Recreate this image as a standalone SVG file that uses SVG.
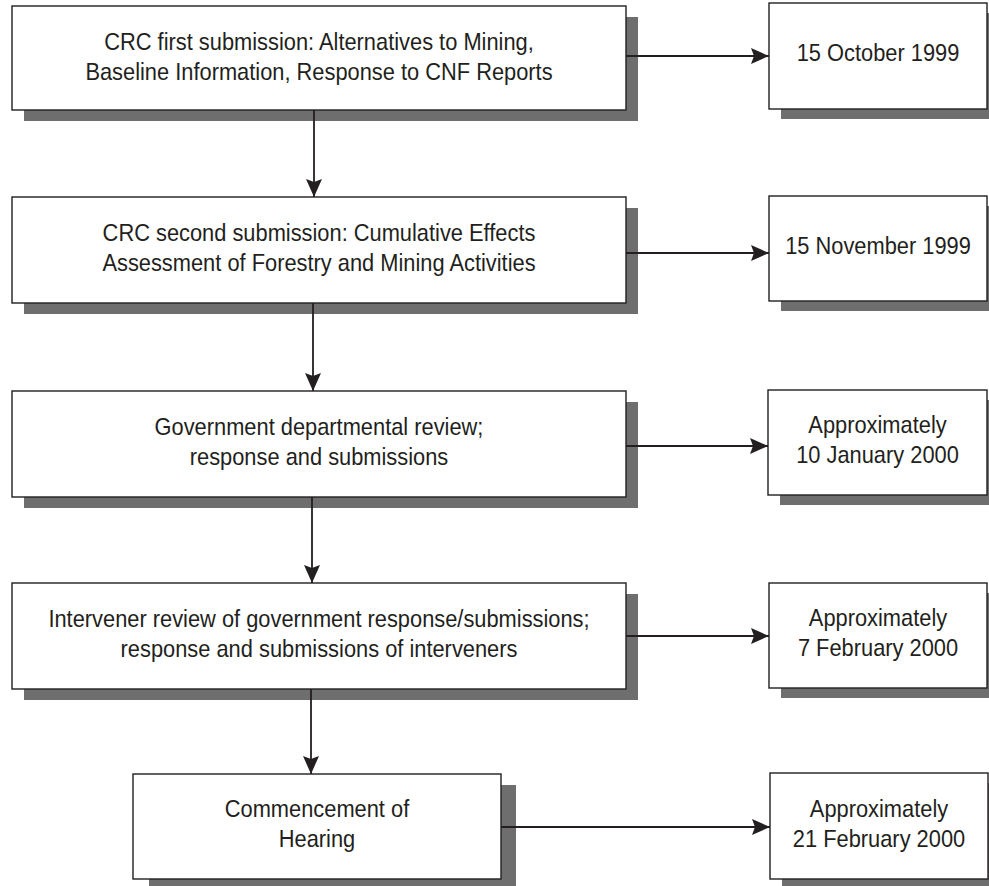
<svg xmlns="http://www.w3.org/2000/svg" width="989" height="886" viewBox="0 0 989 886">
<defs>
<style>
.box{fill:#fff;stroke:#231f20;stroke-width:1.4}
.sh{fill:#6e6e6e}
.t{font-family:"Liberation Sans",Arial,sans-serif;font-size:24px;fill:#231f20;text-anchor:middle}
.c{stroke:#231f20;stroke-width:1.8;fill:none;marker-end:url(#ah)}
</style>
<marker id="ah" markerUnits="userSpaceOnUse" markerWidth="20" markerHeight="18" refX="18" refY="8" orient="auto">
<path d="M0,0 L18,8 L0,16 L3,8 z" fill="#231f20"/>
</marker>
</defs>
<rect width="989" height="886" fill="#fff"/>

<g id="n1">
<rect class="sh" x="24" y="17" width="614" height="104"/>
<rect class="box" x="12" y="6" width="614" height="104"/>
<text class="t" transform="translate(319,50) scale(0.91,1)">CRC first submission: Alternatives to Mining,</text>
<text class="t" transform="translate(319,80) scale(0.91,1)">Baseline Information, Response to CNF Reports</text>
</g>
<g id="d1">
<rect class="sh" x="781" y="13" width="218" height="106"/>
<rect class="box" x="769" y="3" width="218" height="106"/>
<text class="t" transform="translate(878,60.5) scale(0.91,1)">15 October 1999</text>
</g>

<g id="n2">
<rect class="sh" x="24" y="208" width="614" height="106"/>
<rect class="box" x="12" y="197" width="614" height="106"/>
<text class="t" transform="translate(319,240.5) scale(0.91,1)">CRC second submission: Cumulative Effects</text>
<text class="t" transform="translate(319,270.5) scale(0.91,1)">Assessment of Forestry and Mining Activities</text>
</g>
<g id="d2">
<rect class="sh" x="781" y="206" width="218" height="105"/>
<rect class="box" x="769" y="196" width="218" height="105"/>
<text class="t" transform="translate(878,253.5) scale(0.91,1)">15 November 1999</text>
</g>

<g id="n3">
<rect class="sh" x="24" y="402" width="614" height="106"/>
<rect class="box" x="12" y="391" width="614" height="106"/>
<text class="t" transform="translate(319,434.5) scale(0.91,1)">Government departmental review;</text>
<text class="t" transform="translate(319,464.5) scale(0.91,1)">response and submissions</text>
</g>
<g id="d3">
<rect class="sh" x="780" y="400" width="219" height="105"/>
<rect class="box" x="768" y="390" width="219" height="105"/>
<text class="t" transform="translate(877.5,433) scale(0.91,1)">Approximately</text>
<text class="t" transform="translate(877.5,463) scale(0.91,1)">10 January 2000</text>
</g>

<g id="n4">
<rect class="sh" x="24" y="594" width="614" height="106"/>
<rect class="box" x="12" y="583" width="614" height="106"/>
<text class="t" transform="translate(319,626.5) scale(0.91,1)">Intervener review of government response/submissions;</text>
<text class="t" transform="translate(319,656.5) scale(0.91,1)">response and submissions of interveners</text>
</g>
<g id="d4">
<rect class="sh" x="781" y="593" width="218" height="105"/>
<rect class="box" x="769" y="583" width="218" height="105"/>
<text class="t" transform="translate(878,626) scale(0.91,1)">Approximately</text>
<text class="t" transform="translate(878,656) scale(0.91,1)">7 February 2000</text>
</g>

<g id="n5">
<rect class="sh" x="149" y="785" width="367" height="101"/>
<rect class="box" x="133" y="774" width="368" height="105"/>
<text class="t" transform="translate(317,817) scale(0.91,1)">Commencement of</text>
<text class="t" transform="translate(317,847) scale(0.91,1)">Hearing</text>
</g>
<g id="d5">
<rect class="sh" x="782" y="783" width="218" height="103"/>
<rect class="box" x="770" y="773" width="218" height="106"/>
<text class="t" transform="translate(879,816.5) scale(0.91,1)">Approximately</text>
<text class="t" transform="translate(879,846.5) scale(0.91,1)">21 February 2000</text>
</g>

<g id="connectors">
<line class="c" x1="314" y1="110" x2="314" y2="197"/>
<line class="c" x1="313" y1="303" x2="313" y2="391"/>
<line class="c" x1="312" y1="497" x2="312" y2="583"/>
<line class="c" x1="311" y1="689" x2="311" y2="774"/>
<line class="c" x1="626" y1="56" x2="769" y2="56"/>
<line class="c" x1="626" y1="253" x2="769" y2="253"/>
<line class="c" x1="626" y1="446" x2="768" y2="446"/>
<line class="c" x1="626" y1="636" x2="769" y2="636"/>
<line class="c" x1="501" y1="827" x2="770" y2="827"/>
</g>
</svg>
